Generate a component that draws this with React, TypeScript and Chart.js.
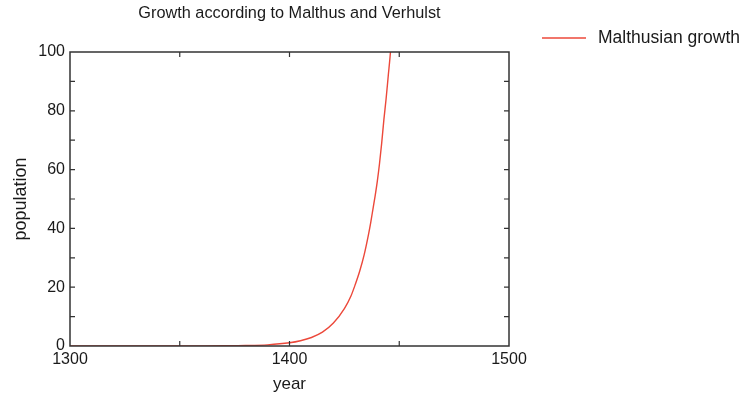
import React, { useEffect, useRef } from "react";
import { Chart, registerables } from "chart.js";

Chart.register(...registerables);

const chartTitle = "Growth according to Malthus and Verhulst";
const seriesLabel = "Malthusian growth";
const xAxisTitle = "year";
const yAxisTitle = "population";

const years = [1300, 1320, 1340, 1360, 1370, 1380, 1390, 1400, 1405, 1410, 1415, 1420, 1425, 1428, 1430, 1432, 1434, 1436, 1437, 1438, 1439, 1440, 1441, 1442, 1443, 1444, 1445, 1446, 1448];
const population = [0, 0, 0.01, 0.03, 0.06, 0.15, 0.4, 1.1, 1.8, 2.9, 4.7, 7.8, 12.7, 17, 21, 25.5, 31, 38, 42, 46.5, 51, 56, 62, 69, 77, 84, 92, 100, 122];

const xMin = 1300;
const xMax = 1500;
const xStep = 50;
const xLabelEvery = 100;
const yMin = 0;
const yMax = 100;
const yStep = 10;
const yLabelEvery = 20;

const FONT = "'Liberation Sans', Arial, Helvetica, sans-serif";
const LINE_COLOR = "rgb(236, 72, 58)";
const FRAME_COLOR = "#333333";
const TEXT_COLOR = "#1a1a1a";

const framePlugin = {
  id: "framePlugin",
  afterDraw(chart: any) {
    const { ctx, chartArea } = chart;
    const { left, right, top, bottom } = chartArea;
    const xs = chart.scales.x;
    const ys = chart.scales.y;
    ctx.save();
    ctx.strokeStyle = FRAME_COLOR;
    ctx.lineWidth = 1.5;
    ctx.strokeRect(left, top, right - left, bottom - top);
    ctx.lineWidth = 1.2;
    const tl = 5;
    ctx.beginPath();
    xs.ticks.forEach((t: any) => {
      const px = xs.getPixelForValue(t.value);
      if (Math.abs(px - left) < 1 || Math.abs(px - right) < 1) return;
      ctx.moveTo(px, bottom);
      ctx.lineTo(px, bottom - tl);
      ctx.moveTo(px, top);
      ctx.lineTo(px, top + tl);
    });
    ys.ticks.forEach((t: any) => {
      const py = ys.getPixelForValue(t.value);
      if (Math.abs(py - top) < 1 || Math.abs(py - bottom) < 1) return;
      ctx.moveTo(left, py);
      ctx.lineTo(left + tl, py);
      ctx.moveTo(right, py);
      ctx.lineTo(right - tl, py);
    });
    ctx.stroke();

    // title centred over the plot area
    ctx.fillStyle = TEXT_COLOR;
    ctx.font = `16.3px ${FONT}`;
    ctx.textAlign = "center";
    ctx.textBaseline = "alphabetic";
    ctx.fillText(chartTitle, (left + right) / 2, 18);

    // legend
    chart.data.datasets.forEach((ds: any, i: number) => {
      const y = 38 + i * 22;
      ctx.strokeStyle = ds.borderColor;
      ctx.lineWidth = 1.5;
      ctx.beginPath();
      ctx.moveTo(542, y);
      ctx.lineTo(586, y);
      ctx.stroke();
      ctx.fillStyle = TEXT_COLOR;
      ctx.font = `17.5px ${FONT}`;
      ctx.textAlign = "left";
      ctx.textBaseline = "middle";
      ctx.fillText(ds.label, 598, y);
    });
    ctx.restore();
  },
};

export default function App() {
  const ref = useRef<HTMLCanvasElement | null>(null);
  useEffect(() => {
    if (!ref.current) return;
    const chart = new Chart(ref.current, {
      type: "line",
      data: {
        datasets: [
          {
            label: seriesLabel,
            data: years.map((x, i) => ({ x, y: population[i] })),
            borderColor: LINE_COLOR,
            backgroundColor: LINE_COLOR,
            borderWidth: 1.4,
            pointRadius: 0,
            cubicInterpolationMode: "monotone",
            fill: false,
          },
        ],
      },
      options: {
        animation: false,
        responsive: false,
        layout: { padding: { left: 0, top: 52, right: 742 - 509, bottom: 0 } },
        plugins: {
          legend: { display: false },
          title: { display: false },
          tooltip: { enabled: false },
        },
        scales: {
          x: {
            type: "linear",
            min: xMin,
            max: xMax,
            afterFit(scale: any) {
              scale.height = 399 - 346;
            },
            grid: { display: false, drawTicks: false },
            border: { display: false },
            ticks: {
              stepSize: xStep,
              padding: 4,
              color: TEXT_COLOR,
              font: { family: FONT, size: 16 },
              maxRotation: 0,
              autoSkip: false,
              callback: (v: any) => (Number(v) % xLabelEvery === 0 ? String(v) : ""),
            },
            title: {
              display: true,
              text: xAxisTitle,
              color: TEXT_COLOR,
              font: { family: FONT, size: 17 },
              padding: { top: 4, bottom: 4 },
            },
          },
          y: {
            type: "linear",
            min: yMin,
            max: yMax,
            afterFit(scale: any) {
              scale.width = 70;
            },
            grid: { display: false, drawTicks: false },
            border: { display: false },
            ticks: {
              stepSize: yStep,
              padding: 5,
              color: TEXT_COLOR,
              font: { family: FONT, size: 16 },
              autoSkip: false,
              callback: (v: any) => (Number(v) % yLabelEvery === 0 ? String(v) : ""),
            },
            title: {
              display: true,
              text: yAxisTitle,
              color: TEXT_COLOR,
              font: { family: FONT, size: 18 },
              padding: { top: 10, bottom: 0 },
            },
          },
        },
      },
      plugins: [framePlugin],
    } as any);
    return () => chart.destroy();
  }, []);
  return (
    <div style={{ position: "fixed", left: 0, top: 0, width: 742, height: 399, background: "#fff" }}>
      <canvas ref={ref} width={742} height={399} style={{ width: 742, height: 399 }} />
    </div>
  );
}
